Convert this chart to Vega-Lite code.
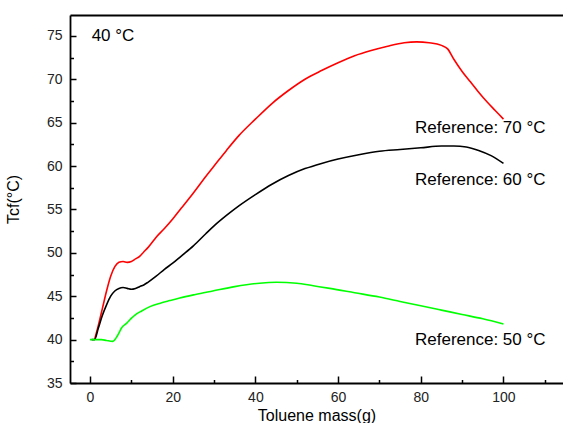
{
  "$schema": "https://vega.github.io/schema/vega-lite/v6.json",
  "width": 493,
  "height": 368,
  "autosize": "none",
  "padding": {"left": 70, "top": 15, "right": 0, "bottom": 40},
  "background": "white",
  "config": {
    "view": {"stroke": null},
    "font": "Liberation Sans",
    "axis": {"labelFont": "Liberation Sans", "titleFont": "Liberation Sans", "labelColor": "#222", "titleColor": "#000", "grid": false}
  },
  "datasets": {
    "curves": [
      {"mass": 1.1, "tcf": 40.0, "series": "70"},
      {"mass": 2, "tcf": 41.6, "series": "70"},
      {"mass": 3, "tcf": 43.6, "series": "70"},
      {"mass": 4, "tcf": 45.6, "series": "70"},
      {"mass": 5, "tcf": 47.3, "series": "70"},
      {"mass": 6, "tcf": 48.4, "series": "70"},
      {"mass": 7, "tcf": 48.9, "series": "70"},
      {"mass": 8, "tcf": 49.0, "series": "70"},
      {"mass": 9, "tcf": 48.9, "series": "70"},
      {"mass": 10, "tcf": 49.0, "series": "70"},
      {"mass": 11, "tcf": 49.3, "series": "70"},
      {"mass": 12, "tcf": 49.6, "series": "70"},
      {"mass": 13, "tcf": 50.1, "series": "70"},
      {"mass": 14, "tcf": 50.6, "series": "70"},
      {"mass": 15, "tcf": 51.2, "series": "70"},
      {"mass": 16, "tcf": 51.8, "series": "70"},
      {"mass": 18, "tcf": 52.8, "series": "70"},
      {"mass": 20, "tcf": 53.9, "series": "70"},
      {"mass": 22, "tcf": 55.1, "series": "70"},
      {"mass": 25, "tcf": 56.9, "series": "70"},
      {"mass": 28, "tcf": 58.8, "series": "70"},
      {"mass": 30, "tcf": 60.0, "series": "70"},
      {"mass": 33, "tcf": 61.8, "series": "70"},
      {"mass": 36, "tcf": 63.5, "series": "70"},
      {"mass": 40, "tcf": 65.4, "series": "70"},
      {"mass": 44, "tcf": 67.2, "series": "70"},
      {"mass": 48, "tcf": 68.7, "series": "70"},
      {"mass": 52, "tcf": 70.0, "series": "70"},
      {"mass": 56, "tcf": 71.0, "series": "70"},
      {"mass": 60, "tcf": 71.9, "series": "70"},
      {"mass": 64, "tcf": 72.7, "series": "70"},
      {"mass": 68, "tcf": 73.3, "series": "70"},
      {"mass": 72, "tcf": 73.8, "series": "70"},
      {"mass": 76, "tcf": 74.2, "series": "70"},
      {"mass": 79, "tcf": 74.3, "series": "70"},
      {"mass": 82, "tcf": 74.2, "series": "70"},
      {"mass": 85, "tcf": 73.9, "series": "70"},
      {"mass": 86.5, "tcf": 73.5, "series": "70"},
      {"mass": 88, "tcf": 72.3, "series": "70"},
      {"mass": 90, "tcf": 70.9, "series": "70"},
      {"mass": 92, "tcf": 69.7, "series": "70"},
      {"mass": 94, "tcf": 68.5, "series": "70"},
      {"mass": 96, "tcf": 67.4, "series": "70"},
      {"mass": 98, "tcf": 66.4, "series": "70"},
      {"mass": 100, "tcf": 65.4, "series": "70"},

      {"mass": 0.4, "tcf": 40.0, "series": "60"},
      {"mass": 1.1, "tcf": 40.0, "series": "60"},
      {"mass": 2, "tcf": 41.3, "series": "60"},
      {"mass": 3, "tcf": 42.8, "series": "60"},
      {"mass": 4, "tcf": 44.0, "series": "60"},
      {"mass": 5, "tcf": 45.0, "series": "60"},
      {"mass": 6, "tcf": 45.6, "series": "60"},
      {"mass": 7, "tcf": 45.9, "series": "60"},
      {"mass": 8, "tcf": 46.0, "series": "60"},
      {"mass": 9, "tcf": 45.9, "series": "60"},
      {"mass": 10, "tcf": 45.8, "series": "60"},
      {"mass": 11, "tcf": 45.9, "series": "60"},
      {"mass": 12, "tcf": 46.1, "series": "60"},
      {"mass": 13, "tcf": 46.3, "series": "60"},
      {"mass": 14, "tcf": 46.6, "series": "60"},
      {"mass": 16, "tcf": 47.3, "series": "60"},
      {"mass": 18, "tcf": 48.1, "series": "60"},
      {"mass": 20, "tcf": 48.8, "series": "60"},
      {"mass": 22, "tcf": 49.6, "series": "60"},
      {"mass": 25, "tcf": 50.8, "series": "60"},
      {"mass": 28, "tcf": 52.2, "series": "60"},
      {"mass": 30, "tcf": 53.1, "series": "60"},
      {"mass": 33, "tcf": 54.3, "series": "60"},
      {"mass": 36, "tcf": 55.4, "series": "60"},
      {"mass": 40, "tcf": 56.7, "series": "60"},
      {"mass": 44, "tcf": 57.9, "series": "60"},
      {"mass": 48, "tcf": 58.9, "series": "60"},
      {"mass": 52, "tcf": 59.7, "series": "60"},
      {"mass": 56, "tcf": 60.3, "series": "60"},
      {"mass": 60, "tcf": 60.8, "series": "60"},
      {"mass": 65, "tcf": 61.3, "series": "60"},
      {"mass": 70, "tcf": 61.7, "series": "60"},
      {"mass": 75, "tcf": 61.9, "series": "60"},
      {"mass": 80, "tcf": 62.1, "series": "60"},
      {"mass": 85, "tcf": 62.3, "series": "60"},
      {"mass": 88, "tcf": 62.3, "series": "60"},
      {"mass": 91, "tcf": 62.2, "series": "60"},
      {"mass": 94, "tcf": 61.8, "series": "60"},
      {"mass": 97, "tcf": 61.2, "series": "60"},
      {"mass": 100, "tcf": 60.3, "series": "60"},

      {"mass": 0, "tcf": 40.0, "series": "50"},
      {"mass": 2.8, "tcf": 40.0, "series": "50"},
      {"mass": 4, "tcf": 39.9, "series": "50"},
      {"mass": 5.5, "tcf": 39.8, "series": "50"},
      {"mass": 6.7, "tcf": 40.5, "series": "50"},
      {"mass": 7.7, "tcf": 41.4, "series": "50"},
      {"mass": 8.9, "tcf": 41.9, "series": "50"},
      {"mass": 10.1, "tcf": 42.5, "series": "50"},
      {"mass": 10.8, "tcf": 42.8, "series": "50"},
      {"mass": 12.5, "tcf": 43.3, "series": "50"},
      {"mass": 14.5, "tcf": 43.8, "series": "50"},
      {"mass": 17, "tcf": 44.2, "series": "50"},
      {"mass": 19.3, "tcf": 44.5, "series": "50"},
      {"mass": 21.7, "tcf": 44.8, "series": "50"},
      {"mass": 25.5, "tcf": 45.2, "series": "50"},
      {"mass": 29.7, "tcf": 45.6, "series": "50"},
      {"mass": 35, "tcf": 46.1, "series": "50"},
      {"mass": 41, "tcf": 46.5, "series": "50"},
      {"mass": 45.1, "tcf": 46.6, "series": "50"},
      {"mass": 50, "tcf": 46.5, "series": "50"},
      {"mass": 54, "tcf": 46.2, "series": "50"},
      {"mass": 58, "tcf": 45.9, "series": "50"},
      {"mass": 64, "tcf": 45.4, "series": "50"},
      {"mass": 70, "tcf": 44.9, "series": "50"},
      {"mass": 75, "tcf": 44.4, "series": "50"},
      {"mass": 80, "tcf": 43.9, "series": "50"},
      {"mass": 85, "tcf": 43.4, "series": "50"},
      {"mass": 90, "tcf": 42.9, "series": "50"},
      {"mass": 95, "tcf": 42.4, "series": "50"},
      {"mass": 100, "tcf": 41.8, "series": "50"}
    ],
    "refLabels": [
      {"label": "Reference: 70 °C", "mass": 78.6, "tcf": 64.4},
      {"label": "Reference: 60 °C", "mass": 78.6, "tcf": 58.4},
      {"label": "Reference: 50 °C", "mass": 78.6, "tcf": 40.0}
    ],
    "cornerLabel": [
      {"label": "40 °C", "mass": 0.4, "tcf": 75.0}
    ]
  },
  "layer": [
    {
      "data": {"name": "curves"},
      "mark": {"type": "line", "strokeWidth": 1.6, "clip": true, "interpolate": "monotone"},
      "encoding": {
        "x": {
          "field": "mass", "type": "quantitative",
          "scale": {"domain": [-4.84, 114.4], "nice": false, "zero": false},
          "axis": {
            "orient": "bottom", "values": [0, 20, 40, 60, 80, 100],
            "title": "Toluene mass(g)", "titleFontSize": 16, "titleFontWeight": "normal", "titlePadding": 3,
            "labelFontSize": 14, "labelPadding": 14, "tickSize": -7, "tickWidth": 1.5, "tickColor": "#000",
            "domainColor": "#000", "domainWidth": 1.8
          }
        },
        "y": {
          "field": "tcf", "type": "quantitative",
          "scale": {"domain": [35, 77.4], "nice": false, "zero": false},
          "axis": {
            "orient": "left", "values": [35, 40, 45, 50, 55, 60, 65, 70, 75],
            "title": "Tcf(°C)", "titleFontSize": 16, "titleFontWeight": "normal", "titlePadding": 25,
            "labelFontSize": 14, "labelPadding": 14, "tickSize": -6, "tickWidth": 1.5, "tickColor": "#000",
            "domainColor": "#000", "domainWidth": 1.8
          }
        },
        "color": {
          "field": "series", "type": "nominal",
          "scale": {"domain": ["70", "60", "50"], "range": ["#ff0000", "#000000", "#00ff00"]},
          "legend": null
        }
      }
    },
    {
      "data": {"name": "refLabels"},
      "mark": {"type": "text", "align": "left", "baseline": "middle", "fontSize": 17, "color": "#000", "font": "Liberation Sans"},
      "encoding": {
        "text": {"field": "label"},
        "x": {
          "field": "mass", "type": "quantitative",
          "axis": {
            "orient": "bottom", "values": [10, 30, 50, 70, 90, 110],
            "labels": false, "domain": false, "title": null,
            "tickSize": -3.5, "tickWidth": 1.5, "tickColor": "#000"
          }
        },
        "y": {
          "field": "tcf", "type": "quantitative",
          "axis": {
            "orient": "left", "values": [37.5, 42.5, 47.5, 52.5, 57.5, 62.5, 67.5, 72.5, 77.5],
            "labels": false, "domain": false, "title": null,
            "tickSize": -3.5, "tickWidth": 1.5, "tickColor": "#000"
          }
        }
      }
    },
    {
      "data": {"name": "cornerLabel"},
      "mark": {"type": "text", "align": "left", "baseline": "middle", "fontSize": 17, "color": "#000", "font": "Liberation Sans"},
      "encoding": {
        "text": {"field": "label"},
        "x": {
          "field": "mass", "type": "quantitative",
          "axis": {
            "orient": "top", "labels": false, "ticks": false, "title": null,
            "domainColor": "#000", "domainWidth": 1.8
          }
        },
        "y": {"field": "tcf", "type": "quantitative", "axis": null}
      }
    }
  ],
  "resolve": {"axis": {"x": "independent", "y": "independent"}}
}
